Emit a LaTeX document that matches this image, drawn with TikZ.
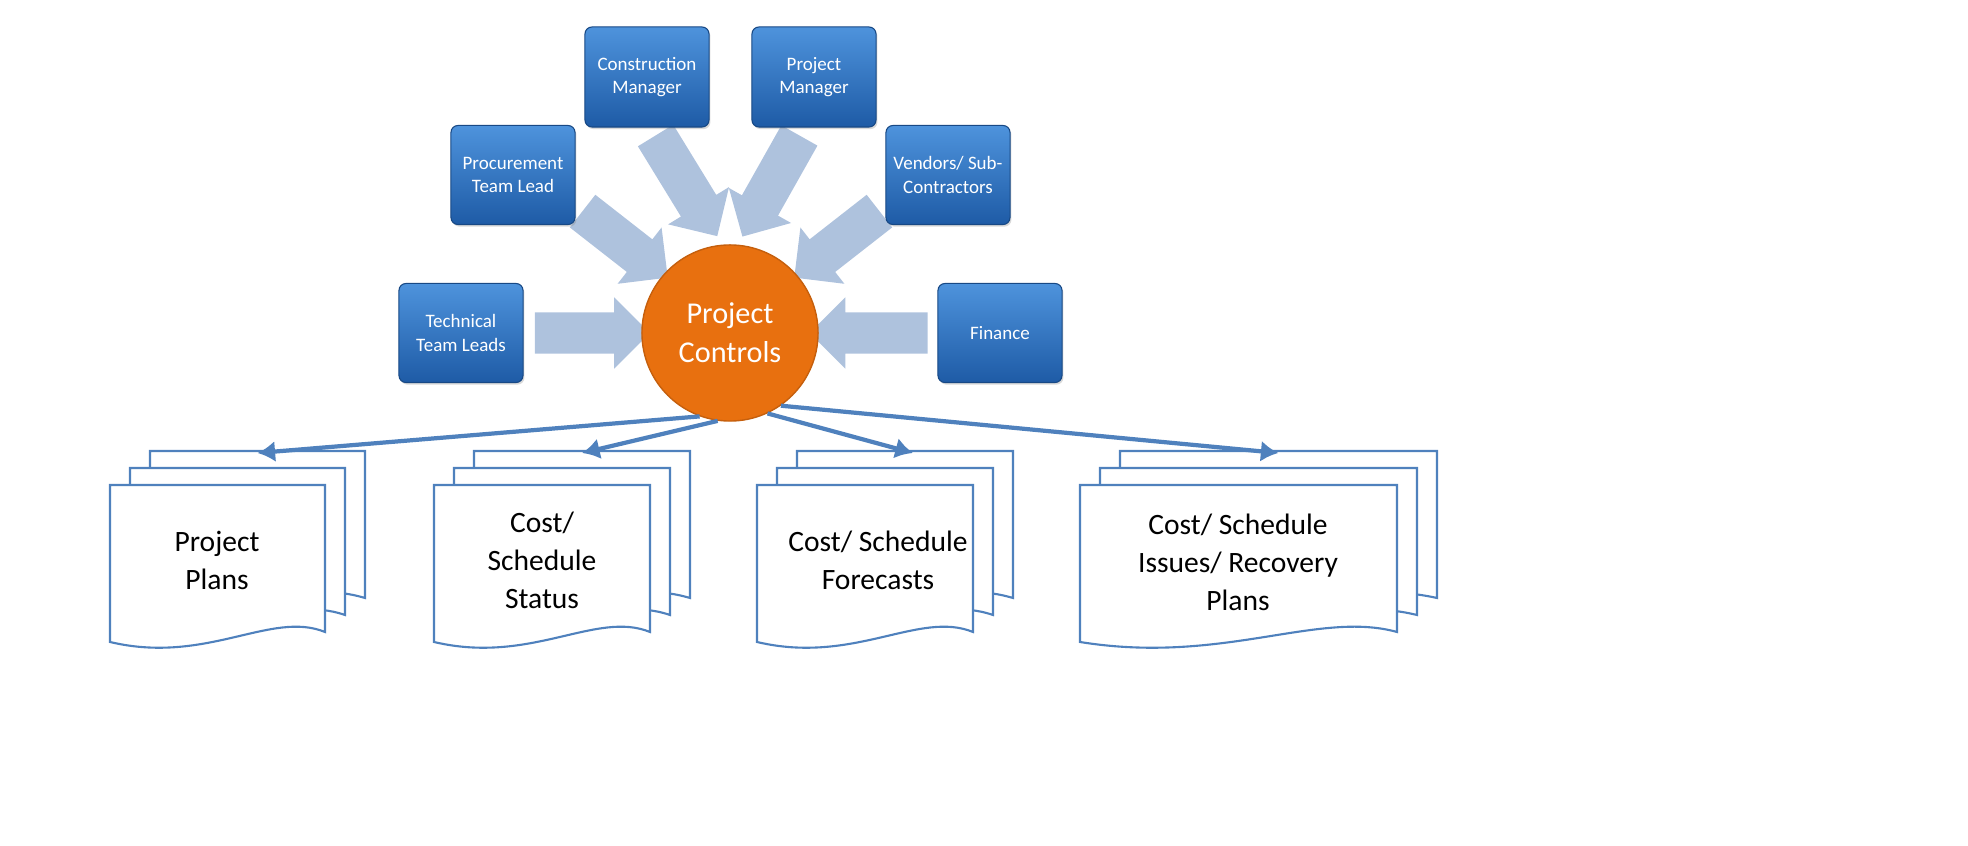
\documentclass[tikz,border=0pt]{standalone}
\usepackage{fontspec}
\setmainfont{Carlito}
\usetikzlibrary{shapes.arrows,shadows,arrows.meta}
\tikzset{
 bbox/.style={rounded corners=2pt,top color=blue1,bottom color=blue2,draw=blue2!80!black,line width=0.3pt,
   text=white,align=center,font=\fontsize{5.4}{6.6}\selectfont,inner sep=0pt,drop shadow={opacity=0.3,shadow xshift=0.4pt,shadow yshift=-0.6pt}},
 fat/.style={single arrow,shape border rotate=0,inner xsep=0pt,inner ysep=0.2cm,single arrow head extend=0.15cm,
   single arrow tip angle=90,fill=gray3,draw=none},
 page/.style={draw=line1,fill=white,line width=0.6pt},
 thin/.style={draw=line1,line width=1.2pt,-{Latex[length=5pt,width=6pt]}},
 doctext/.style={align=center,font=\fontsize{8.4}{10.8}\selectfont}
}
\definecolor{blue1}{HTML}{4E93DC}
\definecolor{blue2}{HTML}{1E5BA6}
\definecolor{gray3}{HTML}{AEC2DD}
\definecolor{line1}{HTML}{4F81BD}
\definecolor{orange1}{HTML}{E8700F}
\newcommand{\docpg}[4]{% x1 y1 x2 y2
 \path[page] (#1,#2) -- (#3,#2) -- (#3,#4-8) .. controls ({#3-0.25*(#3-#1)},#4-30) and ({#1+0.45*(#3-#1)},#4+25) .. (#1,#4+2) -- cycle;}
\newcommand{\docstack}[5]{% x1 y1 x2 y2 name
 \docpg{#1+40}{#2-34}{#3+40}{#4-34}
 \docpg{#1+20}{#2-17}{#3+20}{#4-17}
 \docpg{#1}{#2}{#3}{#4}
 \coordinate (#5) at ({(#1+#3)/2+40},#2-32);}
\begin{document}
\begin{tikzpicture}[x=0.01cm,y=-0.01cm]
\useasboundingbox (0,0) rectangle (1968,846);
% fat arrows
\node[fat,minimum height=1.15cm,rotate=0] (a1) at (582,333) {};
\node[fat,minimum height=1.18cm,rotate=180] (a2) at (879,333) {};
\node[fat,minimum height=1.08cm,rotate=-38] (a3) at (617,238) {};
\node[fat,minimum height=1.08cm,rotate=-142] (a4) at (845,238) {};
\node[fat,minimum height=1.18cm,rotate=-58.5] (a5) at (681,177) {};
\node[fat,minimum height=1.16cm,rotate=-119.4] (a6) at (776,177) {};
% boxes
\node[bbox,minimum width=1.24cm,minimum height=1.0cm] (cm) at (647,77) {Construction\\Manager};
\node[bbox,minimum width=1.24cm,minimum height=1.0cm] (pm) at (814,77) {Project\\Manager};
\node[bbox,minimum width=1.24cm,minimum height=0.99cm] (pt) at (513,175) {Procurement\\Team Lead};
\node[bbox,minimum width=1.24cm,minimum height=0.99cm] (vs) at (948,175) {Vendors/ Sub-\\Contractors};
\node[bbox,minimum width=1.24cm,minimum height=0.99cm] (tt) at (461,333) {Technical\\Team Leads};
\node[bbox,minimum width=1.24cm,minimum height=0.99cm] (fi) at (1000,333) {Finance};
% circle
\node[circle,fill=orange1,draw=orange1!85!black,minimum size=1.76cm,inner sep=0pt,text=white,align=center,
  font=\fontsize{8.6}{11}\selectfont] (pc) at (730,333) {Project\\Controls};
% documents
\docstack{110}{485}{325}{640}{d1}
\docstack{434}{485}{650}{640}{d2}
\docstack{757}{485}{973}{640}{d3}
\docstack{1080}{485}{1397}{640}{d4}
\node[doctext] (t1) at (217,560) {Project\\Plans};
\node[doctext] (t2) at (542,560) {Cost/\\Schedule\\Status};
\node[doctext] (t3) at (878,560) {Cost/ Schedule\\Forecasts};
\node[doctext] (t4) at (1238,562) {Cost/ Schedule\\Issues/ Recovery\\Plans};
% connectors
\draw[thin] (pc.250) -- (d1);
\draw[thin] (pc.262) -- (d2);
\draw[thin] (pc.295) -- ([xshift=0.08cm]d3);
\draw[thin] (pc.305) -- (d4);
\end{tikzpicture}
\end{document}
